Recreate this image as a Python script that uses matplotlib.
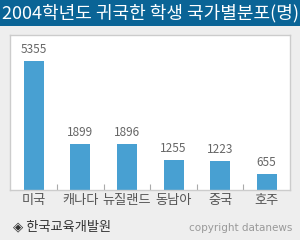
import matplotlib
matplotlib.use("Agg")
import matplotlib.pyplot as plt
from matplotlib.patches import Rectangle

plt.rcParams['font.family'] = ['Noto Sans CJK KR', 'DejaVu Sans']

TITLE = "2004학년도 귀국한 학생 국가별분포(명)"
countries = ["미국", "캐나다", "뉴질랜드", "동남아", "중국", "호주"]
students = [5355, 1899, 1896, 1255, 1223, 655]
SOURCE = "◈ 한국교육개발원"
CREDIT = "copyright datanews"

W, H = 300, 240
fig = plt.figure(figsize=(W / 100, H / 100), dpi=100)
fig.patch.set_facecolor("#eeeeee")

# title bar
fig.patches.append(Rectangle((0, 1 - 26 / H), 1, 26 / H, transform=fig.transFigure,
                             facecolor="#0a6496", edgecolor="none", zorder=0))
fig.text(0.5, 1 - 13.5 / H, TITLE, color="white", fontsize=13, fontweight="medium",
         ha="center", va="center")

ax = fig.add_axes([10 / W, 50 / H, 280 / W, 155 / H])
ax.set_facecolor("white")
x = list(range(len(countries)))
ax.bar(x, students, width=0.43, color="#48a0d2")
for xi, v in zip(x, students):
    ax.text(xi, v + 200, str(v), ha="center", va="bottom", fontsize=8.5, color="#666666")
ax.set_xlim(-0.51, 5.5)
ax.set_ylim(0, 6430)
ax.set_yticks([])
ax.set_xticks(x)
ax.set_xticklabels(countries, fontsize=9.5, color="#555555")
ax.tick_params(axis="x", which="major", length=0, pad=3)
ax.set_xticks([i + 0.5 for i in x[:-1]], minor=True)
ax.tick_params(axis="x", which="minor", direction="in", length=4, width=0.8, color="#aaaaaa")
for s in ax.spines.values():
    s.set_color("#cccccc")
    s.set_linewidth(1.0)

fig.text(13 / W, 1 - 227 / H, SOURCE, fontsize=9.5, color="#333333", ha="left", va="center")
fig.text(292 / W, 1 - 228 / H, CREDIT, fontsize=7.5, color="#999999", ha="right", va="center",
         family="DejaVu Sans")

fig.savefig("out.png", dpi=100, facecolor=fig.get_facecolor())
